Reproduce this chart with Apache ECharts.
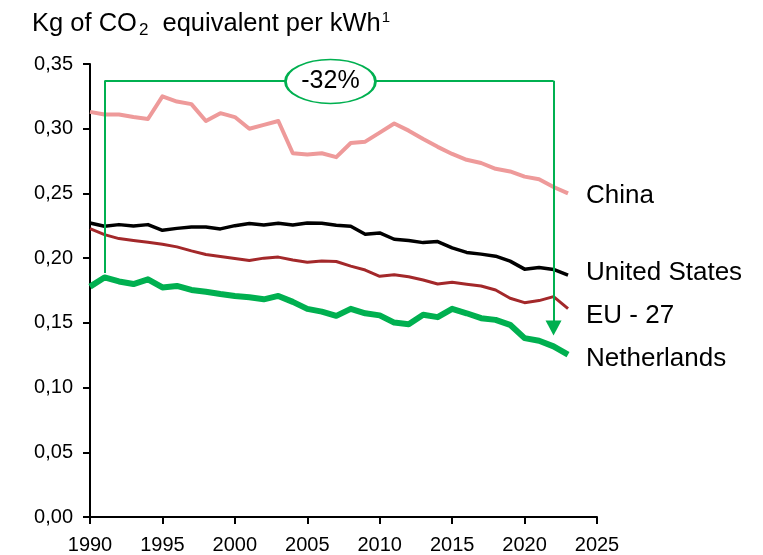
<!DOCTYPE html>
<html>
<head>
<meta charset="utf-8">
<script src="https://cdn.jsdelivr.net/npm/echarts@6/dist/echarts.min.js"></script>
<style>
  html, body { margin: 0; padding: 0; background: #fff; }
  #chart { width: 763px; height: 555px; }
</style>
</head>
<body>
<div id="chart"></div>
<script>
  // years 1990 - 2023
  var years = [1990, 1991, 1992, 1993, 1994, 1995, 1996, 1997, 1998, 1999,
    2000, 2001, 2002, 2003, 2004, 2005, 2006, 2007, 2008, 2009,
    2010, 2011, 2012, 2013, 2014, 2015, 2016, 2017, 2018, 2019,
    2020, 2021, 2022, 2023];

  var china = [0.313, 0.311, 0.311, 0.309, 0.3075, 0.325, 0.321, 0.319, 0.306, 0.312,
    0.309, 0.300, 0.303, 0.306, 0.281, 0.280, 0.281, 0.278, 0.289, 0.290,
    0.297, 0.304, 0.2985, 0.292, 0.286, 0.2805, 0.276, 0.2735, 0.269, 0.267,
    0.263, 0.261, 0.255, 0.250];
  var unitedStates = [0.2272, 0.2246, 0.2259, 0.2249, 0.2259, 0.2215, 0.223, 0.224, 0.224, 0.2226,
    0.2251, 0.2267, 0.2256, 0.2269, 0.2256, 0.2272, 0.2269, 0.2254, 0.2246, 0.2185,
    0.2195, 0.2146, 0.2136, 0.212, 0.2128, 0.2079, 0.2044, 0.2031, 0.2015, 0.1977,
    0.1915, 0.1928, 0.1913, 0.1869];
  var eu27 = [0.2228, 0.2182, 0.2151, 0.2136, 0.2123, 0.2108, 0.2087, 0.2056, 0.2028, 0.2013,
    0.1997, 0.1982, 0.2, 0.2008, 0.1985, 0.1969, 0.1977, 0.1974, 0.1938, 0.1908,
    0.186, 0.1872, 0.1856, 0.1831, 0.18, 0.1813, 0.1798, 0.1785, 0.1754, 0.169,
    0.1656, 0.1672, 0.1703, 0.161];
  var netherlands = [0.178, 0.1851, 0.182, 0.18, 0.1836, 0.1774, 0.1785, 0.1754, 0.1741, 0.1723,
    0.1708, 0.1698, 0.1682, 0.1708, 0.1662, 0.1608, 0.1587, 0.1554, 0.1608, 0.1574,
    0.1558, 0.1502, 0.149, 0.1562, 0.1544, 0.1608, 0.1574, 0.1536, 0.1523, 0.1485,
    0.1382, 0.1362, 0.1318, 0.1254];

  // -32% bracket: from 1991 to 2022
  var bracketYears = [1991, 2022];
  var bracketTop = 0.337;
  var bracketLeftBottom = 0.1885;
  var bracketArrowEnd = 0.146;
  var bracketLabel = '-32%';
  var bracketLabelPos = [2006.6, 0.3365];

  var font = 'Liberation Sans';
  var green = '#00B050';

  function pairs(values) {
    return values.map(function(v, i) { return [years[i], v]; });
  }

  function lineSeries(name, values, color, width, dy) {
    return {
      name: name,
      type: 'line',
      data: pairs(values),
      symbol: 'none',
      lineStyle: { color: color, width: width, join: 'round' },
      endLabel: {
        show: true,
        formatter: name,
        distance: 18,
        offset: [0, dy],
        color: '#000',
        fontSize: 26,
        fontFamily: font
      }
    };
  }

  var chart = echarts.init(document.getElementById('chart'));
  chart.setOption({
    animation: false,
    title: {
      left: 27,
      top: 3,
      text: '{a|Kg of CO}{b|2}{a|  equivalent per kWh}{c|1}',
      textStyle: {
        fontWeight: 'normal',
        rich: {
          a: { fontSize: 25.5, fontFamily: font, color: '#000', fontWeight: 'normal' },
          b: { fontSize: 17, fontFamily: font, color: '#000', fontWeight: 'normal', padding: [14, 0, 0, 2] },
          c: { fontSize: 15, fontFamily: font, color: '#000', fontWeight: 'normal', padding: [0, 0, 12, 1] }
        }
      }
    },
    grid: { left: 90, right: 166, top: 64, bottom: 37 },
    xAxis: {
      type: 'value',
      min: 1990,
      max: 2025,
      interval: 5,
      splitLine: { show: false },
      axisLine: { lineStyle: { color: '#000', width: 2 } },
      axisTick: { length: 7, lineStyle: { color: '#000', width: 2 } },
      axisLabel: {
        margin: 18,
        color: '#000',
        fontSize: 20,
        fontFamily: font,
        formatter: function(v) { return String(v); }
      }
    },
    yAxis: {
      type: 'value',
      min: 0,
      max: 0.35,
      interval: 0.05,
      splitLine: { show: false },
      axisLine: { show: true, lineStyle: { color: '#000', width: 2 } },
      axisTick: { show: true, length: 7, lineStyle: { color: '#000', width: 2 } },
      axisLabel: {
        margin: 17,
        color: '#000',
        fontSize: 20,
        fontFamily: font,
        formatter: function(v) { return v.toFixed(2).replace('.', ','); }
      }
    },
    series: [
      lineSeries('China', china, '#EE9A9A', 4, 2),
      lineSeries('United States', unitedStates, '#000000', 3.5, -2),
      lineSeries('EU - 27', eu27, '#A3282A', 3, 7),
      lineSeries('Netherlands', netherlands, green, 6, 4),
      {
        type: 'line',
        data: [],
        markLine: {
          silent: true,
          symbol: ['none', 'none'],
          label: { show: false },
          lineStyle: { color: green, width: 2, type: 'solid' },
          data: [
            [{ coord: [bracketYears[0], bracketLeftBottom] }, { coord: [bracketYears[0], bracketTop] }],
            [{ coord: [bracketYears[0], bracketTop] }, { coord: [bracketYears[1], bracketTop] }],
            [{ coord: [bracketYears[1], bracketTop] },
             { coord: [bracketYears[1], bracketArrowEnd], symbol: 'triangle', symbolSize: [16, 15] }]
          ]
        }
      },
      {
        type: 'line',
        data: [],
        z: 10,
        markPoint: {
          silent: true,
          symbol: 'path://M0,22A45,22,0,1,1,90,22A45,22,0,1,1,0,22Z',
          symbolSize: [90, 44],
          itemStyle: { color: '#fff', borderColor: green, borderWidth: 2 },
          label: {
            show: true,
            position: 'inside',
            formatter: bracketLabel,
            color: '#000',
            fontSize: 25,
            fontFamily: font
          },
          data: [{ coord: bracketLabelPos }]
        }
      }
    ]
  });
</script>
</body>
</html>
